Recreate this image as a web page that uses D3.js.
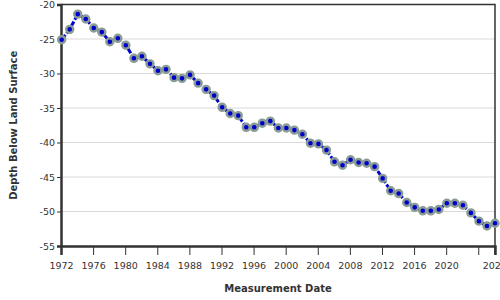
<!DOCTYPE html>
<html><head><meta charset="utf-8">
<script src="https://cdn.jsdelivr.net/npm/d3@7"></script>
<style>body{margin:0;background:#fff}svg{display:block}</style>
</head><body><svg id="c" width="500" height="300"></svg>
<script>
const dates = ["1972-02","1973-02","1974-02","1975-02","1976-02","1977-02","1978-02","1979-02","1980-02","1981-02",
"1982-02","1983-02","1984-02","1985-02","1986-02","1987-02","1988-02","1989-02","1990-02","1991-02",
"1992-02","1993-02","1994-02","1995-02","1996-02","1997-02","1998-02","1999-02","2000-02","2001-02",
"2002-02","2003-02","2004-02","2005-02","2006-02","2007-02","2008-02","2009-02","2010-02","2011-02",
"2012-02","2013-02","2014-02","2015-02","2016-02","2017-02","2018-02","2019-02","2020-02","2021-02",
"2022-02","2023-02","2024-02","2025-02","2026-02"];
const depths = [-25.1,-23.6,-21.4,-22.1,-23.4,-24.0,-25.4,-24.9,-25.9,-27.8,
-27.5,-28.6,-29.6,-29.4,-30.6,-30.7,-30.2,-31.4,-32.3,-33.2,
-34.9,-35.8,-36.1,-37.8,-37.8,-37.2,-36.9,-37.9,-37.9,-38.2,
-38.8,-40.1,-40.2,-41.1,-42.8,-43.3,-42.5,-42.9,-43.0,-43.5,
-45.2,-47.0,-47.4,-48.7,-49.4,-49.9,-49.9,-49.7,-48.8,-48.8,
-49.1,-50.2,-51.4,-52.1,-51.7];
const xTickYears = [1972,1976,1980,1984,1988,1992,1996,2000,2004,2008,2012,2016,2020,2024,2026];
const xTickLabels = ["1972","1976","1980","1984","1988","1992","1996","2000","2004","2008","2012","2016","2020","","2026"];
const yTicks = [-20,-25,-30,-35,-40,-45,-50,-55];
const xTitle = "Measurement Date";
const yTitle = "Depth Below Land Surface";

const parse = d3.timeParse("%Y-%m");
const data = dates.map((d,i)=>({date:parse(d), v:depths[i]}));
const m = {l:61, r:5, t:4.5, b:54};
const W = 500, H = 300;
const svg = d3.select("#c");
const x = d3.scaleTime().domain([new Date(1972,0,1), data[data.length-1].date]).range([m.l, W-m.r]);
const y = d3.scaleLinear().domain([-55,-20]).range([H-m.b, m.t]);
const font = "DejaVu Sans, Verdana, sans-serif";

// gridlines
svg.append("g").selectAll("line").data(yTicks.filter(t=>t>-55 && t<-20)).join("line")
  .attr("x1", m.l).attr("x2", W-m.r).attr("y1", d=>y(d)).attr("y2", d=>y(d))
  .attr("stroke", "#d9d9d9").attr("stroke-width", 1);

// frame top/right
svg.append("path").attr("d", `M${m.l},${y(-20)}H${W-m.r}V${y(-55)}`)
  .attr("fill","none").attr("stroke","#333").attr("stroke-width",1.5);

// axes
const xAxis = d3.axisBottom(x).tickValues(xTickYears.map(yr=>new Date(yr,0,1)))
  .tickFormat((d,i)=>xTickLabels[i]).tickSizeOuter(0).tickSize(9).tickPadding(7);
const gx = svg.append("g").attr("transform", `translate(0,${y(-55)})`).call(xAxis);
const yAxis = d3.axisLeft(y).tickValues(yTicks).tickFormat(d=>String(d)).tickSizeOuter(0).tickSize(4).tickPadding(2);
const gy = svg.append("g").attr("transform", `translate(${m.l},0)`).call(yAxis);
[gx,gy].forEach(g=>{
  g.select(".domain").attr("stroke","#333").attr("stroke-width",2.5);
  g.selectAll(".tick line").attr("stroke","#333").attr("stroke-width",1);
  g.selectAll(".tick text").attr("fill","#333").style("font-family",font).style("font-size","9.5px");
});

// line
const line = d3.line().x(d=>x(d.date)).y(d=>y(d.v));
svg.append("path").datum(data).attr("d", line).attr("fill","none")
  .attr("stroke","#0000cc").attr("stroke-width",3).attr("stroke-dasharray","6,2");
svg.append("g").selectAll("circle").data(data).join("circle")
  .attr("cx", d=>x(d.date)).attr("cy", d=>y(d.v)).attr("r", 3.5)
  .attr("fill","#0000cc").attr("stroke","#8a9c94").attr("stroke-width",2.4);

// titles
svg.append("text").attr("x", (m.l+W-m.r)/2).attr("y", 292).attr("text-anchor","middle")
  .style("font-family",font).style("font-size","10px").style("font-weight","bold").attr("fill","#333").text(xTitle);
svg.append("text").attr("transform", `translate(17,${(y(-20)+y(-55))/2}) rotate(-90)`).attr("text-anchor","middle")
  .style("font-family",font).style("font-size","10px").style("font-weight","bold").attr("fill","#333").text(yTitle);
</script></body></html>
